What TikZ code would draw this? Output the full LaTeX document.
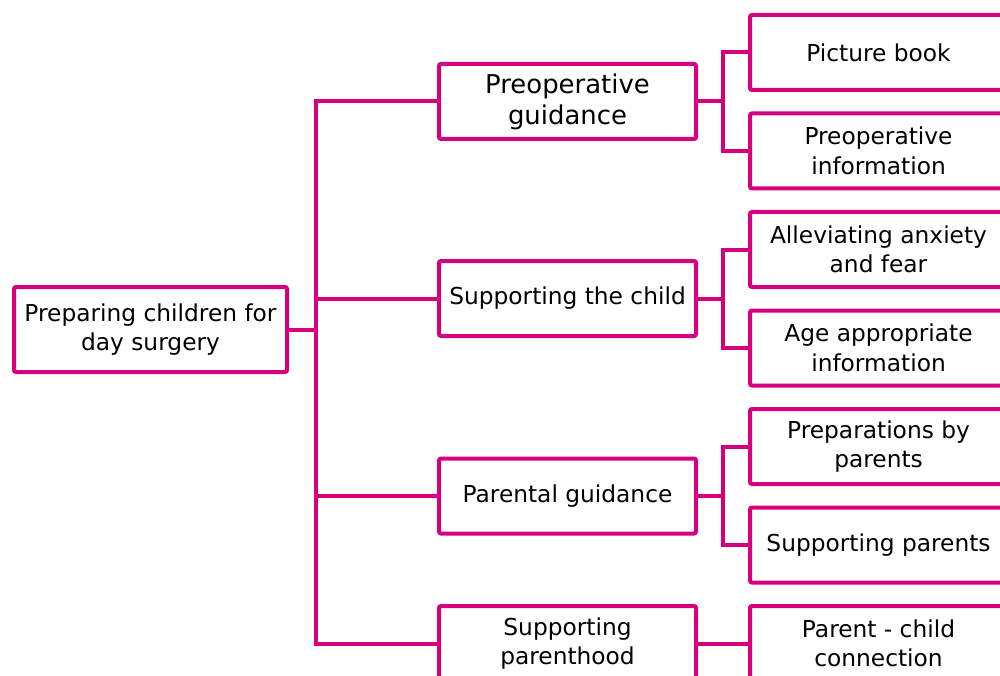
\documentclass[tikz,border=0pt]{standalone}
\usepackage{fontspec}
\setmainfont{DejaVu Sans}
\usepackage{tikz}
\usetikzlibrary{positioning}
\definecolor{hotmagenta}{RGB}{214,0,127}
\tikzset{
  block/.style={rectangle, rounded corners=2pt, draw=hotmagenta, line width=4pt, fill=white,
                minimum width=257pt, minimum height=75pt, inner sep=0pt, align=center,
                font=\fontsize{23.3}{29.5}\selectfont},
  blockbig/.style={block, font=\fontsize{25.9}{31}\selectfont},
  blockroot/.style={block, minimum width=273pt, minimum height=85pt},
  link/.style={draw=hotmagenta, line width=4pt},
}
\begin{document}
\begin{tikzpicture}[x=1pt, y=-1pt]
\useasboundingbox (0,0) rectangle (1000,676);
% root
\node[blockroot] (root) at (150.5,329.5) {Preparing children for\\day surgery};
% second level
\node[blockbig] (preop) at (567.5,101.5) {Preoperative\\guidance};
\node[block] (child)  at (567.5,298.5) {Supporting the child};
\node[block] (parent) at (567.5,496)   {Parental guidance};
\node[block] (hood)   at (567.5,643.5) {Supporting\\parenthood};
% third level
\node[block] (book)   at (878.5,52.5)  {Picture book};
\node[block] (info)   at (878.5,151)   {Preoperative\\information};
\node[block] (fear)   at (878.5,249.5) {Alleviating anxiety\\and fear};
\node[block] (age)    at (878.5,348)   {Age appropriate\\information};
\node[block] (prep)   at (878.5,446.5) {Preparations by\\parents};
\node[block] (suppar) at (878.5,545)   {Supporting parents};
\node[block] (bond)   at (878.5,643.5) {Parent - child\\connection};
% connectors
\coordinate (trunk) at (316,329.5);
\draw[link] (root.east) -- (trunk);
\foreach \n in {preop, child, parent, hood}
  \draw[link] (trunk) |- (\n.west);
\foreach \a/\b/\c in {preop/book/info, child/fear/age, parent/prep/suppar}
  \draw[link] (\a.east) -- ++(25,0) coordinate (fork) |- (\b.west) (fork) |- (\c.west);
\draw[link] (hood.east) -- (bond.west);
\end{tikzpicture}
\end{document}
